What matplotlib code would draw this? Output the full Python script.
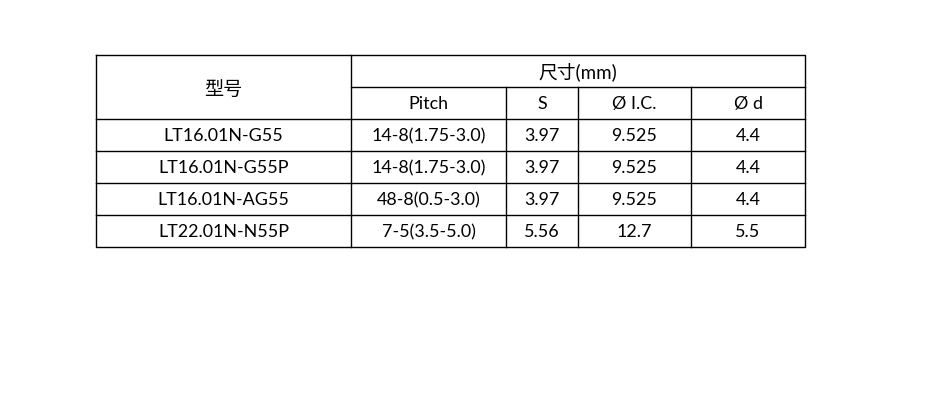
import matplotlib
matplotlib.use('Agg')
import matplotlib.pyplot as plt

plt.rcParams['font.family'] = ['Lato', 'Noto Sans CJK SC', 'DejaVu Sans']

# datos de la tabla
col_headers = ['Pitch', 'S', 'Ø I.C.', 'Ø d']
models = ['LT16.01N-G55', 'LT16.01N-G55P', 'LT16.01N-AG55', 'LT22.01N-N55P']
pitch = ['14-8(1.75-3.0)', '14-8(1.75-3.0)', '48-8(0.5-3.0)', '7-5(3.5-5.0)']
s_vals = ['3.97', '3.97', '3.97', '5.56']
ic_vals = ['9.525', '9.525', '9.525', '12.7']
d_vals = ['4.4', '4.4', '4.4', '5.5']

# geometria en pixeles
xs = [96, 351, 506, 578, 691, 805]
ys = [54.5, 86.5, 119, 151, 183, 215, 247]
fs = 12.9
dy = 1.0  # el texto va un poco mas abajo del centro

fig = plt.figure(figsize=(9.25, 4.03), dpi=100)
ax = fig.add_axes([0, 0, 1, 1])
ax.set_xlim(0, 925)
ax.set_ylim(403, 0)
ax.axis('off')

lw = 1.0
# borde exterior
ax.plot([xs[0], xs[-1], xs[-1], xs[0], xs[0]], [ys[0], ys[0], ys[-1], ys[-1], ys[0]], color='black', lw=lw)
# lineas horizontales
ax.plot([xs[1], xs[-1]], [ys[1], ys[1]], color='black', lw=lw)
for y in ys[2:-1]:
    ax.plot([xs[0], xs[-1]], [y, y], color='black', lw=lw)
# lineas verticales
ax.plot([xs[1], xs[1]], [ys[0], ys[-1]], color='black', lw=lw)
for x in xs[2:-1]:
    ax.plot([x, x], [ys[1], ys[-1]], color='black', lw=lw)

def cx(i):
    return (xs[i] + xs[i + 1]) / 2

def cy(j):
    return (ys[j] + ys[j + 1]) / 2 + dy

ax.text(cx(0), (ys[0] + ys[2]) / 2 + 2.5, '型号', ha='center', va='center', fontsize=13.8,
        family=['Noto Sans CJK SC'])
ax.text((xs[1] + xs[-1]) / 2, cy(0), '尺寸(mm)', ha='center', va='center', fontsize=13.5)
for i, h in enumerate(col_headers):
    ax.text(cx(i + 1), cy(1), h, ha='center', va='center', fontsize=fs)

columns = [models, pitch, s_vals, ic_vals, d_vals]
for i, col in enumerate(columns):
    for j, v in enumerate(col):
        ax.text(cx(i), cy(j + 2), v, ha='center', va='center', fontsize=fs)

fig.savefig('out.png', dpi=100)
